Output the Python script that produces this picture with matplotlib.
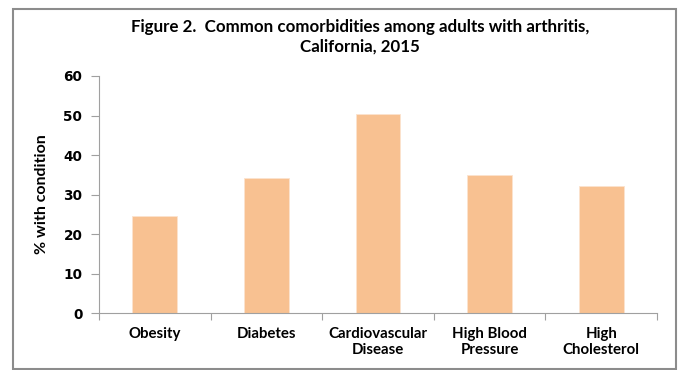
import matplotlib.pyplot as plt
from matplotlib.patches import Rectangle

# dados do gráfico
categorias = ['Obesity', 'Diabetes', 'Cardiovascular\nDisease', 'High Blood\nPressure', 'High\nCholesterol']
percentuais = [24.6, 34.1, 50.4, 34.9, 32.1]
y_ticks = [0, 10, 20, 30, 40, 50, 60]

fig = plt.figure(figsize=(6.79, 3.70), dpi=100)
ax = fig.add_axes([0.1458, 0.154, 0.8218, 0.6406])

# borda externa cinza em volta da figura
fig.patches.append(Rectangle((13 / 679, 1 / 370), 663 / 679, 360 / 370,
                             transform=fig.transFigure, fill=False,
                             edgecolor='#8c8c8c', linewidth=1.5))

x = range(len(categorias))
ax.bar(x, percentuais, width=0.4, color='#F8C191', edgecolor='#FBE3CF', linewidth=0.6)

ax.set_xlim(-0.5, len(categorias) - 0.5)
ax.set_ylim(0, 60)
ax.set_yticks(y_ticks)
ax.set_yticklabels([str(v) for v in y_ticks], fontsize=9.8, fontweight='bold', family='DejaVu Sans')

# ticks do eixo x nas divisões das categorias
ax.set_xticks([i - 0.5 for i in range(len(categorias) + 1)], minor=False)
ax.set_xticklabels([])
ax.set_xticks(list(x), minor=True)
ax.set_xticklabels(categorias, minor=True, fontsize=10.8, fontweight='bold', family='Lato')
ax.tick_params(axis='x', which='minor', length=0, pad=10)
ax.tick_params(axis='x', which='major', length=5, color='#a0a0a0')
ax.tick_params(axis='y', length=6, color='#a0a0a0', pad=6)

for lado in ['top', 'right']:
    ax.spines[lado].set_visible(False)
for lado in ['left', 'bottom']:
    ax.spines[lado].set_color('#a0a0a0')

ax.set_ylabel('% with condition', fontsize=11.5, fontweight='bold', family='Lato', labelpad=10)

fig.text(0.53, 0.90, 'Figure 2.  Common comorbidities among adults with arthritis,\nCalifornia, 2015',
         ha='center', va='center', fontsize=12.2, fontweight='bold', family='Lato', linespacing=1.25)

fig.savefig('out.png', dpi=100)
